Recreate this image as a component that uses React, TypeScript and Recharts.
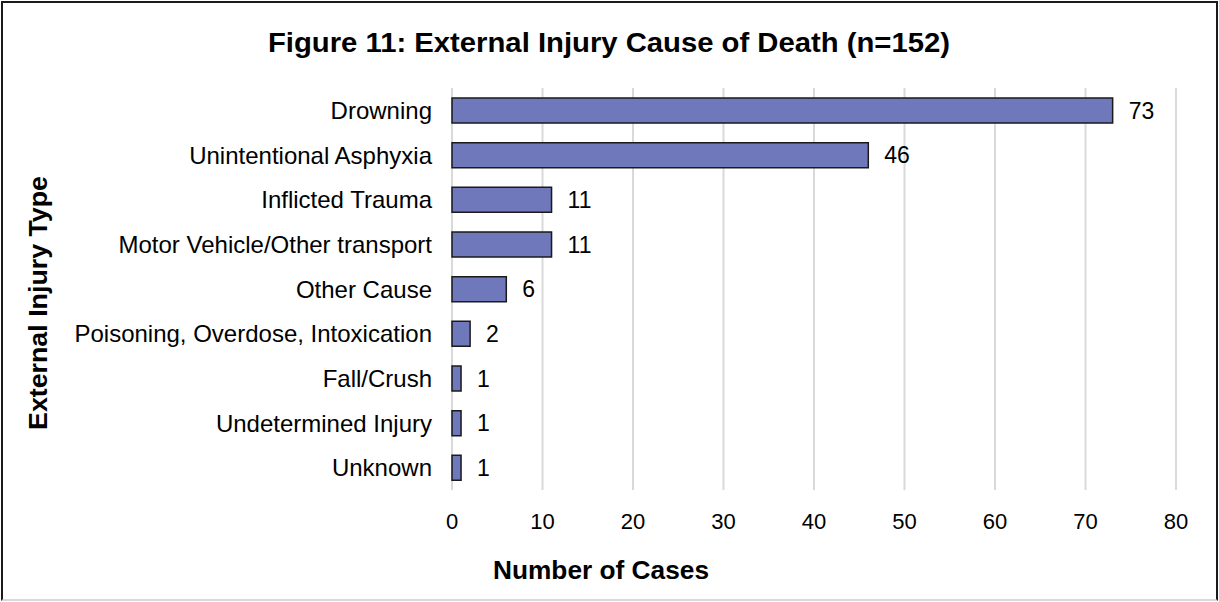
import { BarChart, Bar, XAxis, YAxis, CartesianGrid, LabelList } from 'recharts';

const injuryTypes = [
  'Drowning',
  'Unintentional Asphyxia',
  'Inflicted Trauma',
  'Motor Vehicle/Other transport',
  'Other Cause',
  'Poisoning, Overdose, Intoxication',
  'Fall/Crush',
  'Undetermined Injury',
  'Unknown',
];
const caseCounts = [73, 46, 11, 11, 6, 2, 1, 1, 1];
const xTicks = [0, 10, 20, 30, 40, 50, 60, 70, 80];

const data = injuryTypes.map((name, i) => ({ name, cases: caseCounts[i] }));

const font = '"Liberation Sans", Arial, sans-serif';

export default function App() {
  return (
    <div style={{ position: 'absolute', top: 0, left: 0, width: 1219, height: 602, background: 'white', fontFamily: font }}>
      <div
        style={{
          position: 'absolute',
          left: 1,
          top: 1,
          width: 1213,
          height: 596,
          borderTop: '2px solid #1a1a1a',
          borderLeft: '2px solid #1a1a1a',
          borderRight: '2px solid #1a1a1a',
          borderBottom: '2px solid #d9d9d9',
        }}
      />
      <div style={{ position: 'absolute', left: 0, top: 0 }}>
        <BarChart
          width={1219}
          height={602}
          data={data}
          layout="vertical"
          margin={{ top: 88, right: 43, bottom: 52, left: 0 }}
          barSize={25}
        >
          <CartesianGrid horizontal={false} stroke="#d9d9d9" strokeWidth={2} />
          <XAxis
            type="number"
            domain={[0, 80]}
            ticks={xTicks}
            height={60}
            axisLine={false}
            tickLine={false}
            tickSize={0}
            tickMargin={23}
            tick={{ fontSize: 22, fill: '#000', fontFamily: font }}
          />
          <YAxis
            type="category"
            dataKey="name"
            width={452}
            axisLine={false}
            tickLine={false}
            tickSize={0}
            tickMargin={20}
            interval={0}
            tick={{ fontSize: 24, fill: '#000', fontFamily: font }}
          />
          <Bar dataKey="cases" fill="#6e78ba" stroke="#1a1a1a" strokeWidth={1.5} isAnimationActive={false}>
            <LabelList dataKey="cases" position="right" offset={16} fill="#000" fontSize={23} fontFamily={font} />
          </Bar>
        </BarChart>
      </div>
      <svg width={1219} height={602} style={{ position: 'absolute', left: 0, top: 0, pointerEvents: 'none' }}>
        <text
          x={609}
          y={52}
          textAnchor="middle"
          fontSize={27}
          fontWeight="bold"
          fontFamily={font}
          textLength={682}
          lengthAdjust="spacingAndGlyphs"
          fill="#000"
        >
          Figure 11: External Injury Cause of Death (n=152)
        </text>
        <text
          x={601}
          y={579}
          textAnchor="middle"
          fontSize={26}
          fontWeight="bold"
          fontFamily={font}
          textLength={216}
          lengthAdjust="spacingAndGlyphs"
          fill="#000"
        >
          Number of Cases
        </text>
        <text
          x={0}
          y={0}
          transform="translate(47 303) rotate(-90)"
          textAnchor="middle"
          fontSize={26}
          fontWeight="bold"
          fontFamily={font}
          textLength={254}
          lengthAdjust="spacingAndGlyphs"
          fill="#000"
        >
          External Injury Type
        </text>
      </svg>
    </div>
  );
}
